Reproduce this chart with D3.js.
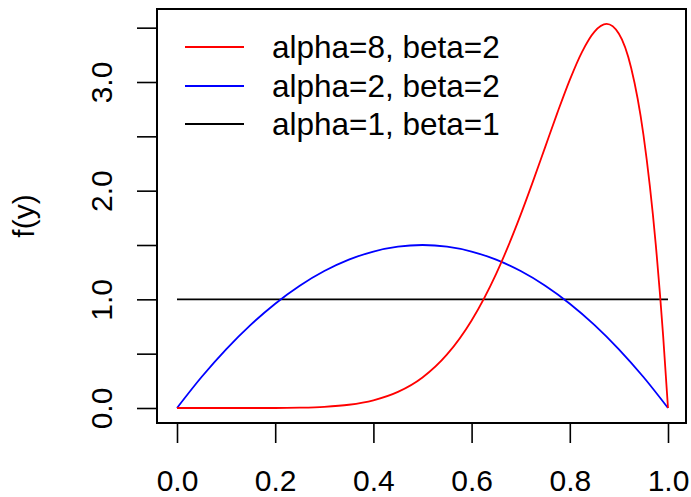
<!DOCTYPE html>
<html>
<head>
<meta charset="utf-8">
<script src="https://cdn.jsdelivr.net/npm/d3@7"></script>
<style>
  body { margin: 0; background: #fff; }
  text { font-family: "Liberation Sans", Arial, sans-serif; }
</style>
</head>
<body>
<div id="chart"></div>
<script>
// values
const xRed = [0, 0.05, 0.1, 0.15, 0.2, 0.25, 0.3, 0.35, 0.4, 0.45, 0.5, 0.55, 0.6, 0.65, 0.675, 0.7, 0.725, 0.75, 0.775, 0.8, 0.825, 0.85, 0.875, 0.9, 0.925, 0.95, 0.975, 0.99, 1]
const yRed = [0, 0, 0, 0, 0, 0.003, 0.011, 0.03, 0.071, 0.148, 0.281, 0.493, 0.806, 1.235, 1.494, 1.779, 2.085, 2.403, 2.72, 3.02, 3.278, 3.462, 3.534, 3.444, 3.129, 2.514, 1.508, 0.671, 0]
const xBlue = [0, 0.05, 0.1, 0.15, 0.2, 0.25, 0.3, 0.35, 0.4, 0.45, 0.5, 0.55, 0.6, 0.65, 0.7, 0.75, 0.8, 0.85, 0.9, 0.95, 1]
const yBlue = [0, 0.285, 0.54, 0.765, 0.96, 1.125, 1.26, 1.365, 1.44, 1.485, 1.5, 1.485, 1.44, 1.365, 1.26, 1.125, 0.96, 0.765, 0.54, 0.285, 0]
const xBlack = [0, 1]
const yBlack = [1, 1]

const xTicks = [0, 0.2, 0.4, 0.6, 0.8, 1]
const yTicks = [0, 0.5, 1, 1.5, 2, 2.5, 3, 3.5]
const yLabelled = [0, 1, 2, 3]

const seriesNames = ["alpha=8, beta=2", "alpha=2, beta=2", "alpha=1, beta=1"]
const seriesColors = ["#ff0000", "#0000ff", "#000000"]

function drawChart() {
  const width = 691
  const height = 497
  const box = { left: 157, right: 686, top: 9, bottom: 423 }

  const svg = d3.select("#chart")
    .append("svg")
      .attr("width", width)
      .attr("height", height)

  const xScale = d3.scaleLinear()
    .domain([0, 1])
    .range([177, 668])

  const yScale = d3.scaleLinear()
    .domain([0, 3])
    .range([408, 82])

  // curves
  const line = d3.line()
    .x(d => xScale(d[0]))
    .y(d => yScale(d[1]))
    .curve(d3.curveMonotoneX)

  const series = [
    d3.zip(xBlack, yBlack),
    d3.zip(xBlue, yBlue),
    d3.zip(xRed, yRed),
  ]
  const colors = [seriesColors[2], seriesColors[1], seriesColors[0]]

  series.forEach((pts, i) => {
    svg.append("path")
      .attr("d", line(pts))
      .attr("fill", "none")
      .attr("stroke", colors[i])
      .attr("stroke-width", 1.8)
  })

  // box
  svg.append("rect")
    .attr("x", box.left)
    .attr("y", box.top)
    .attr("width", box.right - box.left)
    .attr("height", box.bottom - box.top)
    .attr("fill", "none")
    .attr("stroke", "#000")
    .attr("stroke-width", 2)

  // axes
  const xAxis = svg.append("g")
    .attr("transform", `translate(0,${box.bottom})`)
    .call(d3.axisBottom(xScale).tickValues(xTicks).tickSize(20).tickFormat(d3.format(".1f")))
  xAxis.select(".domain").remove()
  xAxis.selectAll("line").attr("stroke-width", 1.6)
  xAxis.selectAll("text")
    .attr("y", 67.5)
    .attr("dy", 0)
    .attr("fill", "#000")
    .style("font-size", "30px")
    .style("font-family", "'Liberation Sans', Arial, sans-serif")

  const yAxis = svg.append("g")
    .attr("transform", `translate(${box.left},0)`)
    .call(d3.axisLeft(yScale).tickValues(yTicks).tickSize(20)
      .tickFormat(d => yLabelled.includes(d) ? d3.format(".1f")(d) : ""))
  yAxis.select(".domain").remove()
  yAxis.selectAll("line").attr("stroke-width", 1.6)
  yAxis.selectAll("text")
    .attr("x", 0)
    .attr("dy", 0)
    .attr("transform", "translate(-45,0) rotate(-90)")
    .attr("text-anchor", "middle")
    .attr("fill", "#000")
    .style("font-size", "30px")
    .style("font-family", "'Liberation Sans', Arial, sans-serif")

  // y label
  svg.append("text")
    .attr("transform", `translate(34,${(box.top + box.bottom) / 2}) rotate(-90)`)
    .attr("text-anchor", "middle")
    .style("font-size", "30px")
    .text("f(y)")

  // legend
  const legendY = [47, 86, 124]
  seriesNames.forEach((name, i) => {
    svg.append("line")
      .attr("x1", 185)
      .attr("x2", 244)
      .attr("y1", legendY[i])
      .attr("y2", legendY[i])
      .attr("stroke", seriesColors[i])
      .attr("stroke-width", 1.8)
    svg.append("text")
      .attr("x", 272)
      .attr("y", legendY[i] + 11)
      .style("font-size", "31.5px")
      .text(name)
  })
}

drawChart()
</script>
</body>
</html>
